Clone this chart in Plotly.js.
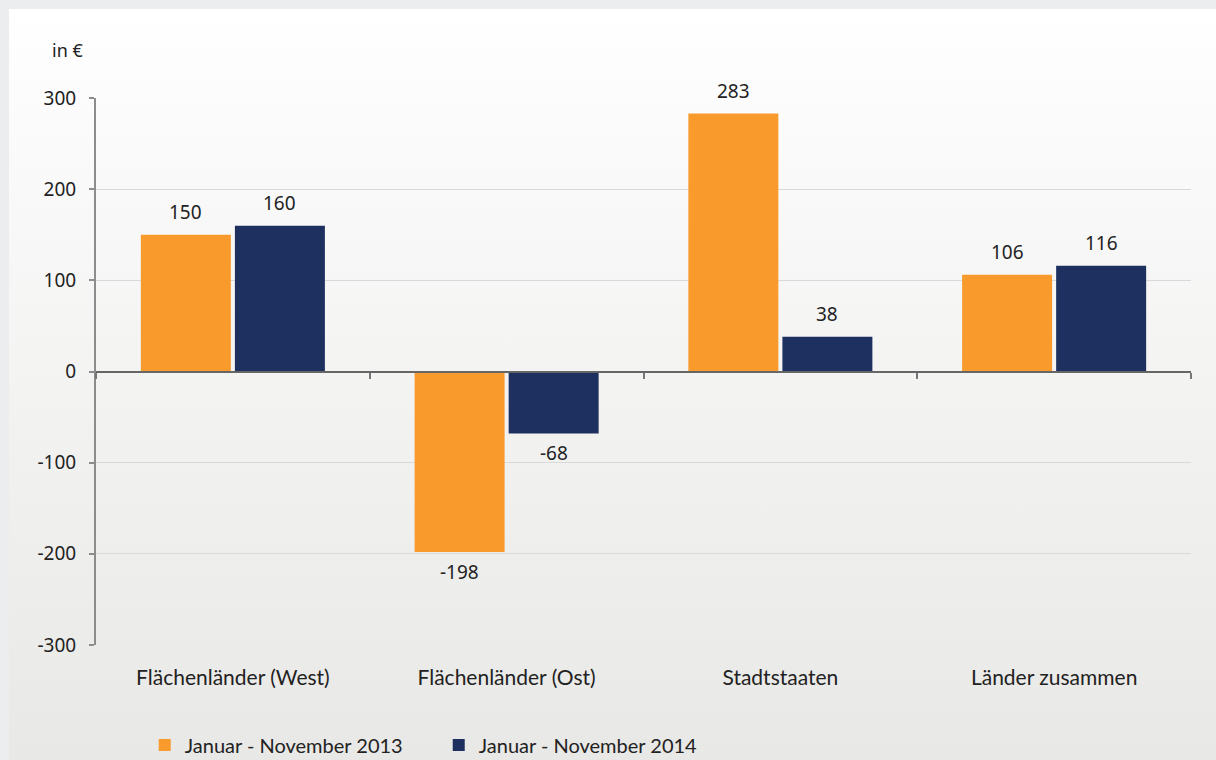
<!DOCTYPE html>
<html>
<head>
<meta charset="utf-8">
<script src="https://cdn.plot.ly/plotly-3.0.1.min.js"></script>
<style>
  html, body { margin:0; padding:0; width:1216px; height:760px; overflow:hidden; background:#ecedef; }
  #panel { position:absolute; left:9px; top:9px; width:1207px; height:751px;
           background: linear-gradient(to bottom, #ffffff 0%, #fbfbfb 15%, #e8e8e6 100%); }
  #chart { position:absolute; left:0; top:0; width:1216px; height:760px; }
</style>
</head>
<body>
<div id="panel"></div>
<div id="chart"></div>
<script>
const categories = ["Flächenländer (West)", "Flächenländer (Ost)", "Stadtstaaten", "Länder zusammen"];
const series2013 = [150, -198, 283, 106];
const series2014 = [160, -68, 38, 116];
const seriesNames = ["Januar - November 2013", "Januar - November 2014"];
const yTicks = [-300, -200, -100, 0, 100, 200, 300];
const unitLabel = "in €";

const colors = ["#F89A2C", "#1E305F"];
const numFont = {family: "Noto Sans, Open Sans, sans-serif", size: 19, color: "#222222"};
const catFont = {family: "Lato, sans-serif", size: 21, color: "#222222"};

const traces = [
  {type: "bar", name: seriesNames[0], x: categories, y: series2013, marker: {color: colors[0]}, hoverinfo: "x+y"},
  {type: "bar", name: seriesNames[1], x: categories, y: series2014, marker: {color: colors[1]}, hoverinfo: "x+y"},
  {type: "scatter", mode: "markers", x: categories, y: categories.map(() => 0), xaxis: "x2", yaxis: "y",
   marker: {opacity: 0}, hoverinfo: "skip", showlegend: false}
];

const annotations = [];
[series2013, series2014].forEach((vals, i) => {
  vals.forEach((v, j) => {
    annotations.push({
      x: categories[j], y: v, xref: "x", yref: "y",
      text: String(v), showarrow: false,
      xshift: i === 0 ? -47 : 47,
      yshift: v >= 0 ? 23 : -20,
      yanchor: "middle", font: numFont
    });
  });
});
annotations.push({
  xref: "paper", yref: "paper", x: -0.01, y: 1.088, xanchor: "right", yanchor: "middle",
  text: unitLabel, showarrow: false, font: {family: "Noto Sans, sans-serif", size: 18, color: "#222222"}
});

const layout = {
  width: 1216, height: 760,
  margin: {l: 96, r: 25, t: 98, b: 115, pad: 0, autoexpand: false},
  paper_bgcolor: "rgba(0,0,0,0)",
  plot_bgcolor: "rgba(0,0,0,0)",
  barmode: "group",
  bargap: 0.313,
  bargroupgap: 0.043,
  showlegend: true,
  legend: {orientation: "h", x: 0.0445, xanchor: "left", y: -0.183, yanchor: "middle",
           font: {family: "Lato, sans-serif", size: 20, color: "#222222"},
           entrywidth: 249, entrywidthmode: "pixels", bgcolor: "rgba(0,0,0,0)"},
  xaxis: {
    type: "category", anchor: "free", position: 0.5, range: [-0.5, 3.5],
    showline: true, linecolor: "#666666", linewidth: 2,
    ticks: "outside", tickson: "boundaries", ticklen: 6, tickwidth: 2, tickcolor: "#777777",
    showticklabels: false, showgrid: false, zeroline: false, fixedrange: true
  },
  xaxis2: {
    type: "category", overlaying: "x", anchor: "y", side: "bottom", range: [-0.5, 3.5],
    showline: false, ticks: "", showgrid: false, zeroline: false,
    tickfont: catFont, ticklabelstandoff: 18, fixedrange: true
  },
  yaxis: {
    range: [-300, 300], tickvals: yTicks, ticktext: yTicks.map(String),
    showline: true, linecolor: "#8c8c8c", linewidth: 2,
    ticks: "outside", ticklen: 5, tickwidth: 2, tickcolor: "#8c8c8c",
    gridcolor: "#d9d9d9", gridwidth: 1, zeroline: false,
    tickfont: numFont, ticklabelstandoff: 9, fixedrange: true
  },
  annotations: annotations
};

Plotly.newPlot("chart", traces, layout, {displayModeBar: false, staticPlot: true});
</script>
</body>
</html>
